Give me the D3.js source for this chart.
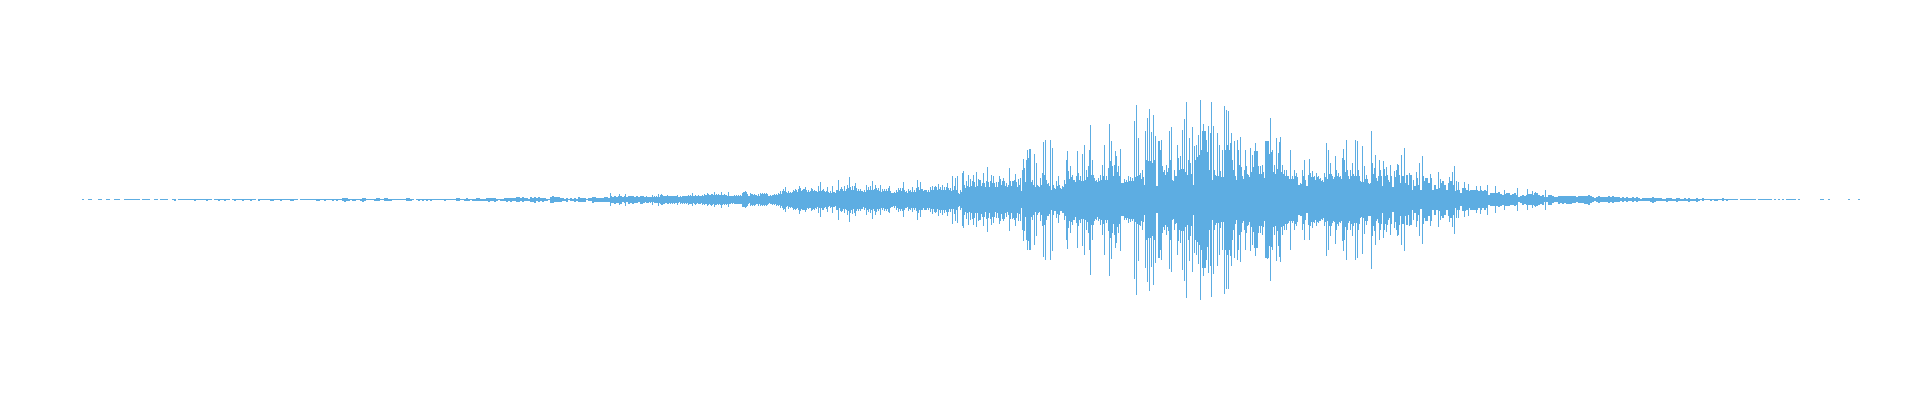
<!DOCTYPE html>
<html><head><meta charset="utf-8">
<script src="https://cdn.jsdelivr.net/npm/d3@7/dist/d3.min.js"></script>
<style>html,body{margin:0;padding:0;background:#fff;overflow:hidden}svg{display:block}</style>
</head><body><svg id="c" width="1920" height="400"></svg>
<script>
// Peak-to-peak amplitudes. Body samples are two sample columns wide.
const startA = 82;
const bodyA = [1,0,0,1,1,0,0,0,1,1, 0,0,1,1,0,0,1,1,1,0, 0,1,1,1,1,1,1,1,1,0, 1,1,1,1,0,0,1,1,0,1,
  1,1,1,0,0,1,2,0,1,1, 1,1,1,1,1,1,2,1,1,1, 1,1,2,1,1,0,1,1,2,1, 1,2,1,1,0,1,2,1,1,1,
  2,1,1,1,2,1,1,0,2,1, 1,1,1,1,2,2,1,1,1,2, 1,1,1,1,2,2,1,1,0,1, 1,1,1,1,1,1,1,2,2,1,
  1,2,1,1,1,2,1,2,1,1, 3,4,3,2,1,2,2,1,1,2];
const startB = 362;
const bodyB = [4,3,1,1,1,1,2,3,3,1, 1,3,3,2,2,1,1,1,1,1, 1,1,3,3,2,1,0,1,2,1, 2,1,2,1,2,1,1,1,1,1,
  1,2,1,1,1,1,1,3,3,1, 1,2,3,2,1,2,2,3,3,2, 2,2,3,4,3,3,4,2,1,2, 2,3,4,3,4,3,3,5,5,3,
  5,3,3,2,5,4,6,3,5,3, 4,3,2,1,6,7,5,5,5,4, 3,2,4,1,3,2,4,2,5,4, 4,4,1,3,3,6,5,4,4,4,
  4,5,5,4,7,6,8,6,7,8, 5,7,5,8,7,8,6,7,5,8];
const startC = 642;
// solid core of the middle section and the comb of single columns standing on it
const coreC = [7,5,6,5,5,5,6,6,6,7, 8,7,6,7,7,7,7,6,5,6, 7,7,7,8,8,7,7,7,8,7, 8,9,8,9,9,9,10,9,9,8,
  9,9,8,8,7,7,8,8,8,8, 11,12,12,7,11,10,10,8,8,11, 11,11,11,7,8,9,9,10,11,12,
  15,16,13,14,14,14,16,16,17,18, 17,18,16,16,15,18,17,15,17,17, 17,15,15,13,14,15,13,17,17,18, 18,18,17,19,20,19,20,18,18,18,
  15,16,20,19,20,19,17,19,18,16, 17,18,18,19,14,12,13,16,19,18, 18,16,14,18,16,16,16,18,20,21, 17,16,16,16,19,19,19,19,21,20,
  20,20,19,19,18,19,21,17,12,16,
  24,24,27,25,27,27,26,27,29,28, 26,25,27,26,27,25,25,26,26,29, 27,27,25,23,27,27,28,26,29];
const combC = [8,6,7,6,6,6,7,7,7,9, 10,8,7,8,8,8,8,7,6,7, 8,8,8,9,9,8,8,8,9,8, 9,11,9,11,10,11,11,11,11,10,
  10,11,10,9,8,8,9,9,9,9, 14,15,15,8,13,12,12,9,9,13, 13,13,13,8,9,10,11,12,13,14, 17,18,15,16,16,16,18,19,21,23,
  20,21,20,19,17,21,20,18,20,21, 20,17,18,15,17,18,15,20,21,22, 22,23,21,23,26,24,27,23,22,22, 18,20,27,25,27,24,22,24,23,20,
  21,22,22,24,17,14,16,20,24,23, 23,20,17,22,20,20,20,23,26,28, 21,20,20,20,25,24,25,25,28,26, 25,26,25,24,24,25,28,20,14,20,
  30,30,38,34,38,38,36,38,42,40, 34,34,38,36,38,34,34,36,36,42, 38,38,34,30,38,38,40,36,42];
const startD = 1020;
const coreD = [17,30,35,40,40,35,30,25,30,25, 30,35,35,32,28,20,30,22,28,30, 22,26,32,45,42,45,40,35,38,40,
  38,38,40,45,48,50,50,38,35,38, 40,48,40,40,45,52,48,50,55,48, 33,33,36,36,38,38,38,45,48,50,
  42,45,30,50,52,52,50,52,27,85, 80,55,50,55,50,55,38,48,42,60, 62,62,55,50,55,52,30,80,85,90,
  100,120,120,95,60,100,40,50,42,42, 45,45,100,110,100,90,60,48,38,70, 65,42,50,52,45,55,65,72,72,52,
  52,55,40,90,92,95,55,52,62,65, 55,52,48,48,42,42,42,48,45,30, 32,48,40,27,42,45,45,40,45,42,
  38,36,45,42,52,52,42,40,48,45, 42,55,55,60,42,48,52,42,42,48, 35,36,42,42,32,32,52,48,38,42,
  48,27,48,50,36,48,25,45,48,50];
const combD = [17,43,63,80,83,67,40,27,73,27, 43,53,50,40,33,20,47,23,37,47, 23,27,40,80,57,67,50,40,47,53,
  47,47,50,60,67,80,80,43,40,43, 50,70,47,47,63,77,67,70,87,67,
  33,33,41,40,47,45,43,60,70,80, 53,60,30,80,77,77,73,80,27,117, 100,67,60,70,63,80,40,60,47,83,
  87,87,80,67,80,73,30,107,110,113, 137,137,137,120,80,133,40,60,47,47, 57,53,133,133,130,113,80,60,40,100,
  93,47,60,67,50,80,90,97,97,67, 67,70,43,117,117,120,73,70,87,93, 77,70,60,60,47,47,47,60,53,30,
  33,60,43,27,50,53,57,47,53,47,
  43,40,53,47,73,73,47,45,60,53, 47,83,80,90,47,60,73,47,47,60, 37,40,47,50,33,33,73,63,43,47,
  60,27,61,65,40,60,25,57,60,70];
const startE = 1400;
const bodyE = [33,48,33,50,30,50,20,27,43,30, 19,48,37,43,33,43,20,30,21,23, 33,37,30,20,33,37,30,17,20,20,
  13,23,23,20,17,20,20,20,20,17, 20,17,20,17,10,13,13,13,13,15, 12,10,12,13,13,10,11,13,10,5,
  7,10,8,10,11,11,10,13,13,10, 8,10,5,5,10,10,7,5,5,8, 7,8,7,8,8,8,7,7,5,7,
  7,7,8,8,10,7,5,3,5,7, 5,5,5,5,7,5,7,5,5,5, 3,5,3,5,3,3,5,3,5,3, 2];
const startF = 1642;
const bodyF = [3,3,3,3,4,6,4,3,3,3, 2,2,4,3,3,2,2,4,3,2, 2,3,2,4,2,2,2,4,2,1, 3,1,1,1,2,1,2,2,1,1,
  3,1,2,1,1,1,1,1,0,1, 1,1,1,1,1,1,1,0,1,1, 1,1,1,1,1,0,1,0,1,0, 1,0,1,1,1,1,1,0,1,0,
  0,0,0,0,0,0,0,0,0,1, 1,0,0,1,0,0,0,0,0,0, 0,0,0,1,0,0,0,0,1];
// Isolated one-column peaks: sample position and peak-to-peak amplitude.
const spikePos = [610,619,625,652,658,661,667,677,680,688,692,695,702,707,711,714,718,721,728,735,743,745,750,758,762,766,774,780,783,785,788,793,795,799,803,805,811,814,818,820,823,827,832,837,838,841,844,847,849,852,855,860,866,868,872,875,880,885,889,893,903,908,912,917,920,925,932,935,938,942,947,952,955,957,962,963,968,970,973,976,979,983,987,991,993,999,1003,1009,1013,1015,1020,1022,1023,
  1027,1029,1030,1034,1043,1045,1050,1052,1067,1077,1082,1084,1089,1090,1104,1109,1111,1115,1120,1134,1136,1138,1145,1147,1149,1151,1153,1155,1159,1161,1169,1171,1177,1182,1184,1186,1189,1192,1198,1200,1203,1205,1208,1211,1213,1217,1219,1222,1224,1226,1228,1231,1234,1237,1240,1245,1250,1255,1257,1265,1267,1270,1272,1276,1279,1280,1290,1304,1309,1326,1328,1335,1343,1346,1355,1357,1362,1364,1371,1375,1379,1383,1390,1397,
  1401,1404,1409,1413,1416,1419,1422,1425,1430,1438,1440,1449,1452,1454,1456,1458,1464,1468,1476,1480,1487,1495,1504,1517,1527,1532,1535,1545];
const spikeAmp = [13,11,12,10,12,11,9,10,8,10,13,10,10,13,12,15,10,16,15,8,15,17,13,12,12,12,10,17,21,25,18,20,21,28,21,25,23,20,27,35,21,25,27,20,40,25,27,30,45,28,33,21,30,21,38,30,30,17,27,13,35,20,25,40,35,20,28,27,32,30,33,48,43,47,53,57,50,41,50,55,40,53,65,50,47,48,43,63,37,52,43,60,82,
  100,101,101,91,115,120,120,103,98,97,92,110,100,150,110,152,118,97,102,158,190,123,137,164,182,135,170,127,117,120,138,145,110,140,162,196,123,145,129,200,152,137,147,195,148,133,110,100,188,179,178,133,117,120,125,100,103,113,97,117,118,163,100,123,115,125,100,80,81,113,100,88,102,120,120,117,108,68,138,90,80,77,70,72,
  90,103,53,40,55,73,88,43,52,55,41,45,55,68,37,36,35,32,27,28,30,27,20,23,21,17,15,20];

const x = d3.scaleLinear().domain([82,1858]).range([82,1858]);
const y = d3.scaleLinear().domain([-100,100]).range([299.5,99.5]);
const color = "#5dade2";
const svg = d3.select("#c");

const toRows = (start, arr) => arr.map((v,i) => ({s:start+i*2, v}));
const body = [[startA,bodyA],[startB,bodyB],[startC,coreC],[startD,coreD],[startE,bodyE],[startF,bodyF]]
  .flatMap(([s,a]) => toRows(s,a)).filter(d => d.v>0);
const comb = [[startC,combC],[startD,combD]].flatMap(([s,a]) => toRows(s,a));
const spikes = spikePos.map((s,i) => ({s, v:spikeAmp[i]}));

function draw(cls, rows, w){
  svg.append("g").attr("class",cls).attr("fill",color).attr("shape-rendering","crispEdges")
    .selectAll("rect").data(rows).join("rect")
    .attr("x", d => x(d.s))
    .attr("width", w)
    .attr("y", d => y(d.v/2))
    .attr("height", d => y(-d.v/2)-y(d.v/2));
}
draw("body", body, 2);
draw("comb", comb, 1);
draw("spikes", spikes, 1);
</script></body></html>
